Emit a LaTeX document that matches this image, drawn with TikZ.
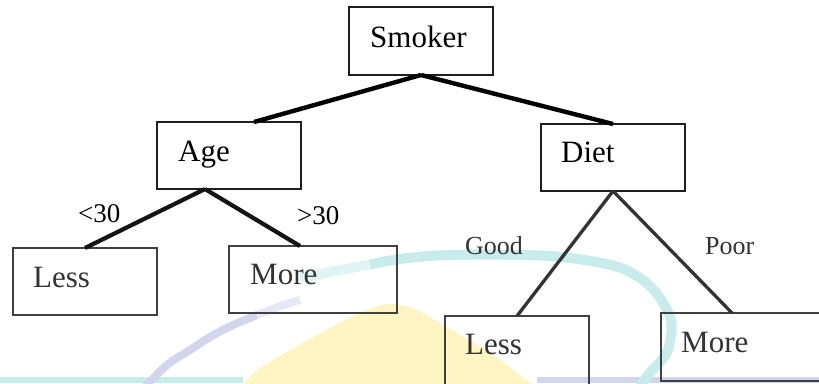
\documentclass[tikz,border=0pt]{standalone}
\usepackage{fontspec}
\setmainfont{Liberation Serif}
\definecolor{wmcyan}{HTML}{C8EBEB}
\definecolor{wmlav}{HTML}{D2D6EC}
\definecolor{wmyellow}{HTML}{FFF5C2}
\definecolor{leafgray}{HTML}{333333}
\begin{document}
\begin{tikzpicture}[x=1pt,y=-1pt,
  box/.style={draw=black!88, line width=1.5pt, inner sep=0pt, outer sep=0pt,
    anchor=north west, minimum width=144pt, minimum height=67pt},
  leafbox/.style={box, draw=black!75},
  boxtext/.style={anchor=base west, inner sep=0pt, font=\fontsize{31}{31}\selectfont},
  leaftext/.style={boxtext, text=leafgray},
  edgetext/.style={anchor=base west, inner sep=0pt, font=\fontsize{27}{27}\selectfont},
  branchtext/.style={anchor=base west, inner sep=0pt, text=leafgray, font=\fontsize{26}{26}\selectfont},
  topedge/.style={line width=4.4pt, black},
  midedge/.style={line width=4.2pt, black!92},
  lowedge/.style={line width=3.3pt, leafgray}]
  \fill[white] (0,0) rectangle (819,383);
  \useasboundingbox (0,0) rectangle (819,383);
  \clip (0,0) rectangle (819,383);

  % faint logo shapes in the background
  \fill[wmyellow] plot[smooth] coordinates {(236,395) (255,372) (290,350) (330,328) (362,312) (388,304) (415,309) (445,326) (495,356) (545,395)} -- cycle;
  \fill[wmcyan] (0,377) rectangle (243,383);
  \fill[wmlav] (537,377) rectangle (819,383);
  \draw[wmlav, line width=8pt] plot[smooth] coordinates {(140,392) (167,365) (190,350) (210,337) (233,325) (257,315)};
  \draw[wmlav!55, line width=8pt] (257,315) -- (280,306) -- (300,300);
  \draw[wmcyan!55, line width=10pt] (300,278) -- (340,270) -- (370,264.5);
  \draw[wmcyan, line width=10pt] plot[smooth] coordinates {(370,264.5) (400,259) (450,255) (550,256) (618,267) (652,288) (671,320) (667,352) (648,375) (636,392)};

  % boxes
  \node[box, minimum height=68pt] (smoker) at (349,7) {};
  \node[box] (age) at (157,122) {};
  \node[box] (diet) at (541,124) {};
  \node[leafbox] (lessA) at (13,248) {};
  \node[leafbox, minimum width=168pt] (moreA) at (229,246) {};
  \node[leafbox, minimum height=80pt] (lessD) at (445,316) {};
  \node[leafbox, minimum width=180pt, minimum height=68pt] (moreD) at (661,313) {};

  % box captions
  \node[boxtext] (tSmoker) at (370,47) {Smoker};
  \node[boxtext] (tAge) at (178,161) {Age};
  \node[boxtext] (tDiet) at (561,162) {Diet};
  \node[leaftext] (tLessA) at (33,287) {Less};
  \node[leaftext] (tMoreA) at (250,284) {More};
  \node[leaftext] (tLessD) at (465,354) {Less};
  \node[leaftext] (tMoreD) at (681,352) {More};

  % branch labels
  \node[edgetext] (lYoung) at (78,222) {<30};
  \node[edgetext] (lOld) at (297,224) {>30};
  \node[branchtext] (lGood) at (465,254) {Good};
  \node[branchtext] (lPoor) at (705,254) {Poor};

  % connectors
  \draw[topedge] (smoker.south) -- ([xshift=97pt]age.north west);
  \draw[topedge] (smoker.south) -- (diet.north);
  \draw[midedge] ([xshift=48pt]age.south west) -- (lessA.north);
  \draw[midedge] ([xshift=48pt]age.south west) -- ([xshift=71pt]moreA.north west);
  \draw[lowedge] (diet.south) -- (lessD.north);
  \draw[lowedge] (diet.south) -- ([xshift=71pt]moreD.north west);
\end{tikzpicture}
\end{document}
